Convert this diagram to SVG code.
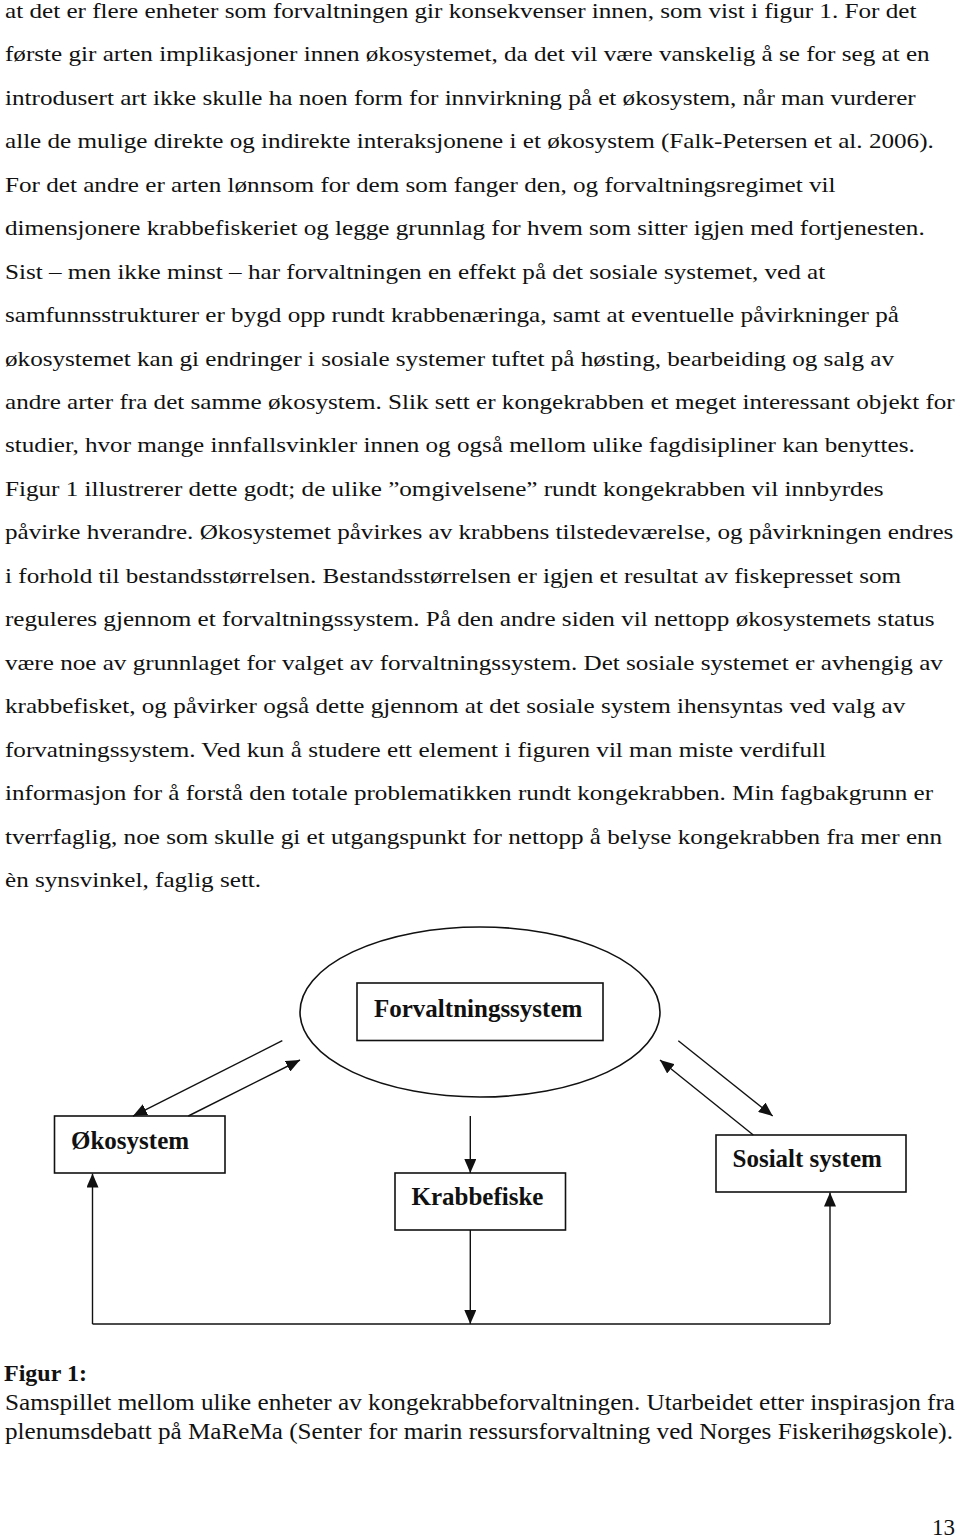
<svg xmlns="http://www.w3.org/2000/svg" width="960" height="1537" viewBox="0 0 960 1537">
<style>
.body{font-family:"Liberation Serif","Times New Roman",serif;font-size:22px;fill:#111;}
.cap{font-family:"Liberation Serif","Times New Roman",serif;font-size:23px;fill:#111;}
.lbl{font-family:"Liberation Serif","Times New Roman",serif;font-size:25px;font-weight:bold;fill:#111;}
.box{fill:#fff;stroke:#111;stroke-width:1.6;}
.ln{fill:none;stroke:#111;stroke-width:1.4;}
</style>
<defs>
<marker id="ah" markerUnits="userSpaceOnUse" markerWidth="14" markerHeight="12" refX="14" refY="6" orient="auto">
<path d="M0,0 L14,6 L0,12 z" fill="#111"/>
</marker>
</defs>
<rect width="960" height="1537" fill="#fff"/>
<g id="bodytext" transform="translate(5 0) scale(1.143 1)">
<text class="body" x="0" y="18">at det er flere enheter som forvaltningen gir konsekvenser innen, som vist i figur 1. For det</text>
<text class="body" x="0" y="61.5">første gir arten implikasjoner innen økosystemet, da det vil være vanskelig å se for seg at en</text>
<text class="body" x="0" y="105">introdusert art ikke skulle ha noen form for innvirkning på et økosystem, når man vurderer</text>
<text class="body" x="0" y="148.4">alle de mulige direkte og indirekte interaksjonene i et økosystem (Falk-Petersen et al. 2006).</text>
<text class="body" x="0" y="191.8">For det andre er arten lønnsom for dem som fanger den, og forvaltningsregimet vil</text>
<text class="body" x="0" y="235.3">dimensjonere krabbefiskeriet og legge grunnlag for hvem som sitter igjen med fortjenesten.</text>
<text class="body" x="0" y="278.7">Sist – men ikke minst – har forvaltningen en effekt på det sosiale systemet, ved at</text>
<text class="body" x="0" y="322.2">samfunnsstrukturer er bygd opp rundt krabbenæringa, samt at eventuelle påvirkninger på</text>
<text class="body" x="0" y="365.6">økosystemet kan gi endringer i sosiale systemer tuftet på høsting, bearbeiding og salg av</text>
<text class="body" x="0" y="409.1">andre arter fra det samme økosystem. Slik sett er kongekrabben et meget interessant objekt for</text>
<text class="body" x="0" y="452.5">studier, hvor mange innfallsvinkler innen og også mellom ulike fagdisipliner kan benyttes.</text>
<text class="body" x="0" y="496">Figur 1 illustrerer dette godt; de ulike ”omgivelsene” rundt kongekrabben vil innbyrdes</text>
<text class="body" x="0" y="539.4">påvirke hverandre. Økosystemet påvirkes av krabbens tilstedeværelse, og påvirkningen endres</text>
<text class="body" x="0" y="582.9">i forhold til bestandsstørrelsen. Bestandsstørrelsen er igjen et resultat av fiskepresset som</text>
<text class="body" x="0" y="626.3">reguleres gjennom et forvaltningssystem. På den andre siden vil nettopp økosystemets status</text>
<text class="body" x="0" y="669.8">være noe av grunnlaget for valget av forvaltningssystem. Det sosiale systemet er avhengig av</text>
<text class="body" x="0" y="713.2">krabbefisket, og påvirker også dette gjennom at det sosiale system ihensyntas ved valg av</text>
<text class="body" x="0" y="756.7">forvatningssystem. Ved kun å studere ett element i figuren vil man miste verdifull</text>
<text class="body" x="0" y="800.1">informasjon for å forstå den totale problematikken rundt kongekrabben. Min fagbakgrunn er</text>
<text class="body" x="0" y="843.6">tverrfaglig, noe som skulle gi et utgangspunkt for nettopp å belyse kongekrabben fra mer enn</text>
<text class="body" x="0" y="887">èn synsvinkel, faglig sett.</text>
</g>
<g id="forvaltning">
<ellipse class="ln" cx="480" cy="1012" rx="180" ry="85" style="stroke-width:1.6"/>
<rect class="box" x="357" y="983" width="246" height="57.5"/>
<text class="lbl" x="374" y="1017">Forvaltningssystem</text>
</g>
<g id="okosystem">
<rect class="box" x="54.5" y="1116" width="170.5" height="57"/>
<text class="lbl" x="71" y="1149">Økosystem</text>
</g>
<g id="krabbefiske">
<rect class="box" x="395" y="1173" width="170.5" height="57"/>
<text class="lbl" x="411.5" y="1205">Krabbefiske</text>
</g>
<g id="sosialt">
<rect class="box" x="716" y="1135" width="190" height="57"/>
<text class="lbl" x="732.5" y="1167">Sosialt system</text>
</g>
<g id="connectors">
<line class="ln" x1="282.3" y1="1040.7" x2="133" y2="1116" marker-end="url(#ah)"/>
<line class="ln" x1="188.3" y1="1116" x2="300" y2="1060" marker-end="url(#ah)"/>
<line class="ln" x1="678.3" y1="1040.7" x2="772.7" y2="1116" marker-end="url(#ah)"/>
<line class="ln" x1="753.3" y1="1135" x2="660" y2="1060" marker-end="url(#ah)"/>
<line class="ln" x1="470.3" y1="1116" x2="470.3" y2="1173" marker-end="url(#ah)"/>
<line class="ln" x1="470.3" y1="1230" x2="470.3" y2="1324" marker-end="url(#ah)"/>
<line class="ln" x1="92.5" y1="1324" x2="92.5" y2="1173.5" marker-end="url(#ah)"/>
<line class="ln" x1="830" y1="1324" x2="830" y2="1192.5" marker-end="url(#ah)"/>
<line class="ln" x1="92.5" y1="1324" x2="830" y2="1324"/>
</g>
<g id="caption">
<text class="cap" x="4" y="1381" style="font-weight:bold;font-size:24px">Figur 1:</text>
<text class="cap" x="5" y="1410" textLength="950" lengthAdjust="spacingAndGlyphs">Samspillet mellom ulike enheter av kongekrabbeforvaltningen. Utarbeidet etter inspirasjon fra</text>
<text class="cap" x="5" y="1438.5" textLength="948" lengthAdjust="spacingAndGlyphs">plenumsdebatt på MaReMa (Senter for marin ressursforvaltning ved Norges Fiskerihøgskole).</text>
<text class="cap" x="955" y="1535" text-anchor="end">13</text>
</g>
</svg>
